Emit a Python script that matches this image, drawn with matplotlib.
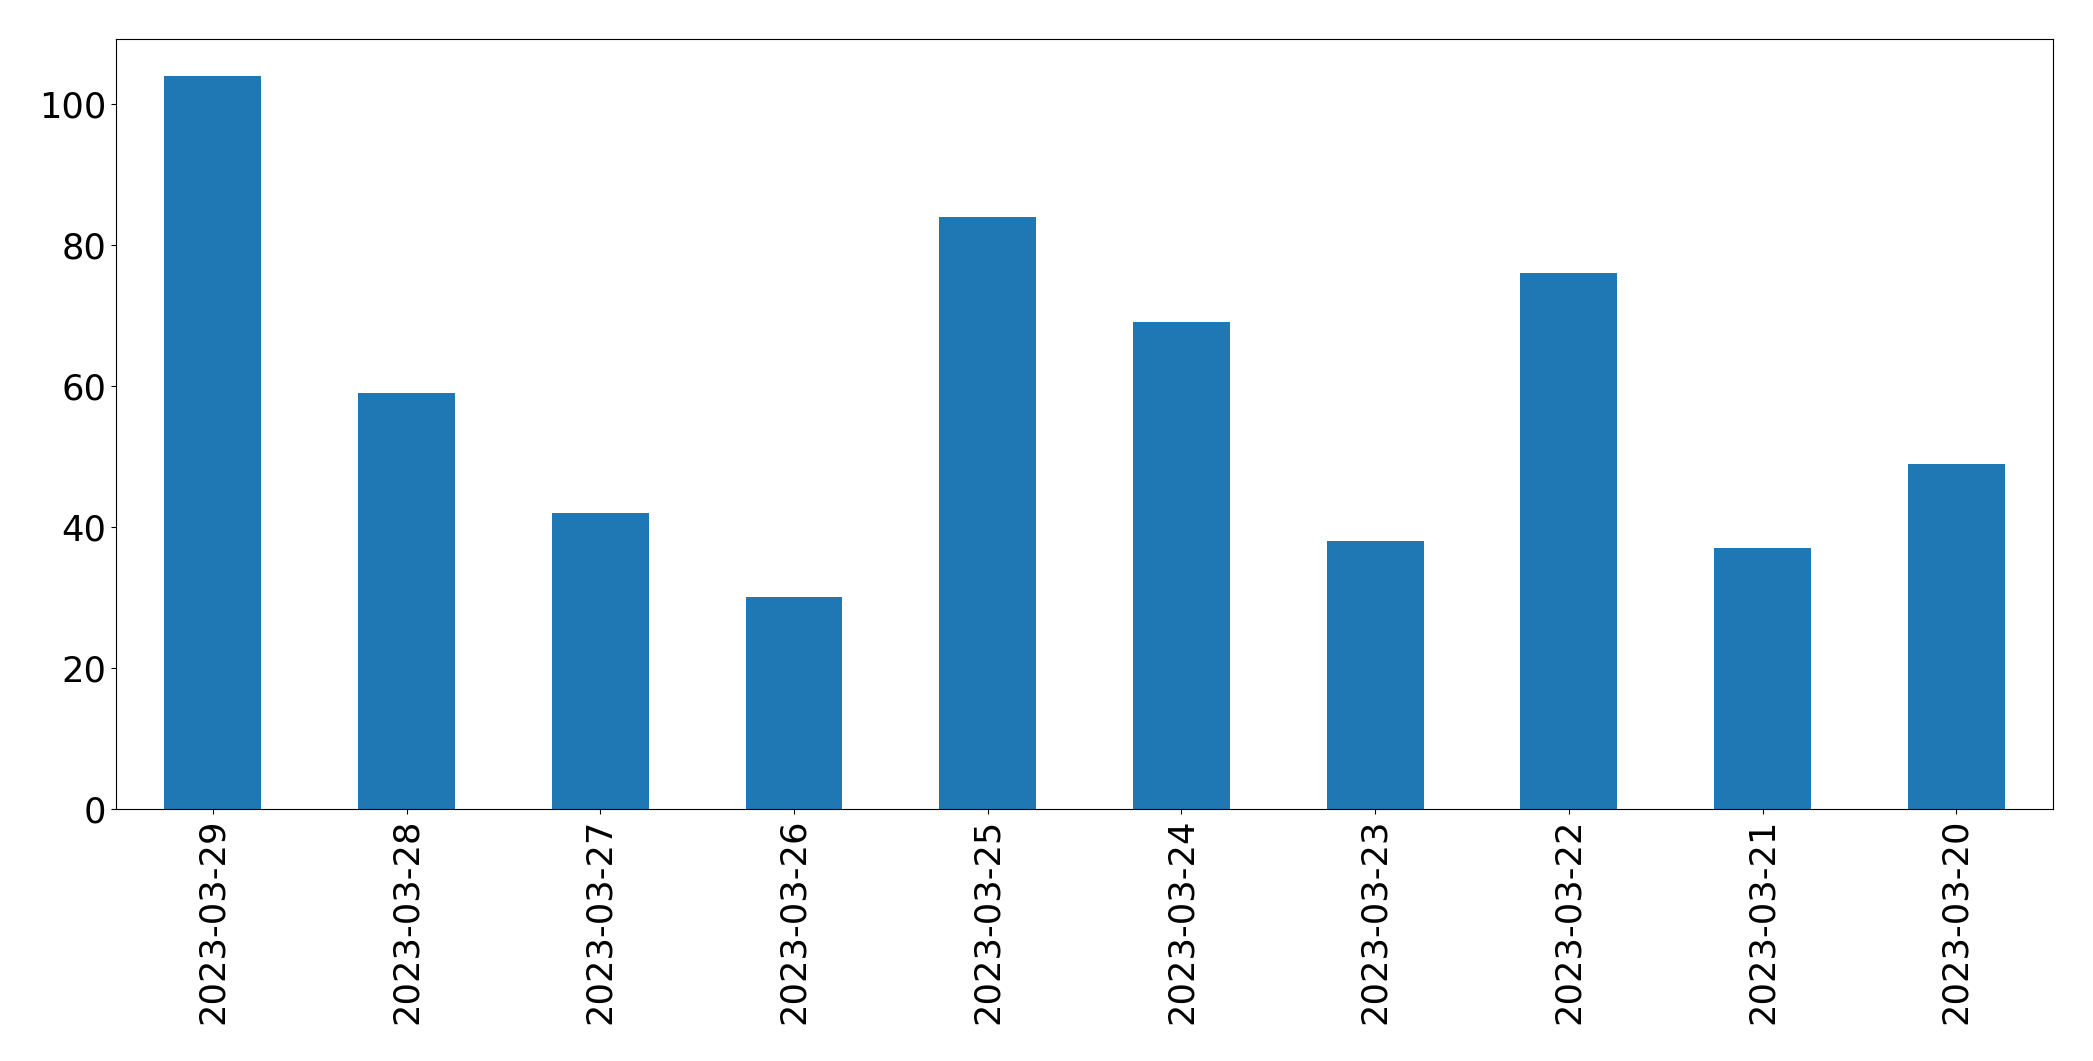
import matplotlib.pyplot as plt

dates = ["2023-03-29", "2023-03-28", "2023-03-27", "2023-03-26", "2023-03-25",
         "2023-03-24", "2023-03-23", "2023-03-22", "2023-03-21", "2023-03-20"]
counts = [104, 59, 42, 30, 84, 69, 38, 76, 37, 49]

fig, ax = plt.subplots(figsize=(20.93, 10.61), dpi=100)
x = range(len(dates))
ax.bar(x, counts, width=0.5, color="#1f77b4")
ax.set_xticks(list(x))
ax.set_xticklabels(dates, rotation=90)
ax.set_xlim(-0.5, len(dates) - 0.5)
ax.tick_params(axis="both", labelsize=25.4)

plt.subplots_adjust(left=0.0554, right=0.981, top=0.9632, bottom=0.2375)
plt.savefig("out.png")
